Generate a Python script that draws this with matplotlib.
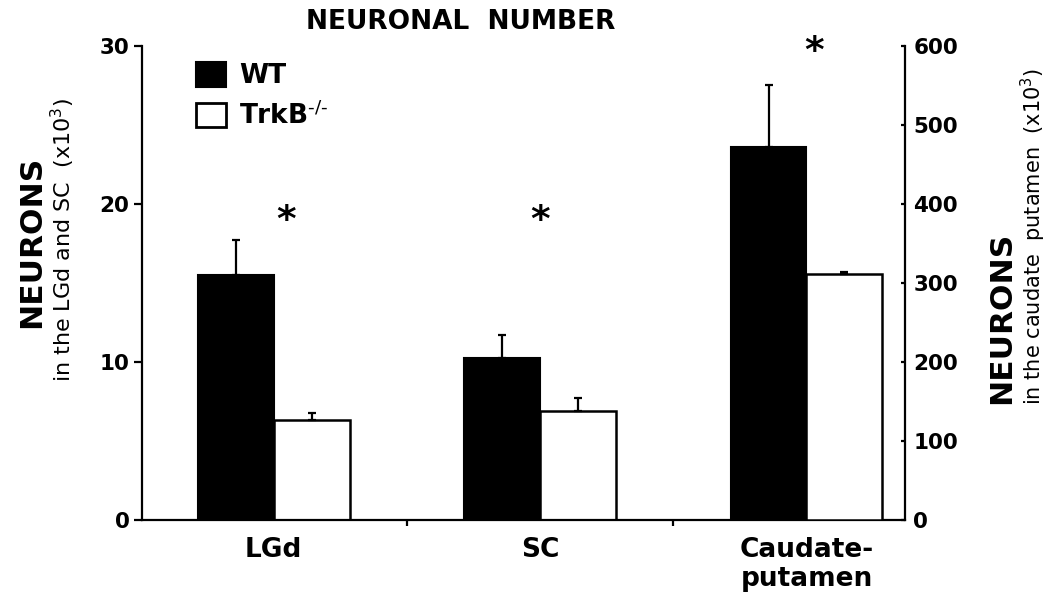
import numpy as np
import matplotlib
matplotlib.use("Agg")
import matplotlib.pyplot as plt
from matplotlib.patches import Patch

# данные (тыс. нейронов)
regions = ["LGd", "SC", "Caudate-\nputamen"]
wt_means = [15.5, 10.25, 472]      # последнее значение - по правой оси
wt_errs = [2.2, 1.45, 79]
ko_means = [6.3, 6.9, 312]
ko_errs = [0.45, 0.85, 2]
star_x = [0.045, 1.0, 2.03]
star_y = [18.9, 18.9, 29.65]       # по левой оси

plt.rcParams['font.family'] = ['DejaVu Sans']
plt.rcParams['mathtext.fontset'] = 'dejavusans'

fig = plt.figure(figsize=(10.5, 6.09), dpi=100)
ax = fig.add_axes([0.1352, 0.1461, 0.7267, 0.7783])
ax2 = ax.twinx()

x = np.arange(len(regions))
w = 0.285

# LGd и SC на левой оси
ax.bar(x[:2] - w / 2, wt_means[:2], w, color='black', edgecolor='black', linewidth=1.5, zorder=2)
ax.bar(x[:2] + w / 2, ko_means[:2], w, color='white', edgecolor='black', linewidth=1.8, zorder=2)
ax.errorbar(x[:2] - w / 2, wt_means[:2], yerr=[np.zeros(2), wt_errs[:2]], fmt='none',
            ecolor='black', elinewidth=1.6, capsize=2.6, capthick=1.6, zorder=3)
ax.errorbar(x[:2] + w / 2, ko_means[:2], yerr=[np.zeros(2), ko_errs[:2]], fmt='none',
            ecolor='black', elinewidth=1.6, capsize=2.6, capthick=1.6, zorder=3)

# Caudate-putamen на правой оси
ax2.bar(x[2] - w / 2, wt_means[2], w, color='black', edgecolor='black', linewidth=1.5, zorder=2)
ax2.bar(x[2] + w / 2, ko_means[2], w, color='white', edgecolor='black', linewidth=1.8, zorder=2)
ax2.errorbar([x[2] - w / 2], [wt_means[2]], yerr=[[0], [wt_errs[2]]], fmt='none',
             ecolor='black', elinewidth=1.6, capsize=2.6, capthick=1.6, zorder=3)
ax2.errorbar([x[2] + w / 2], [ko_means[2]], yerr=[[0], [ko_errs[2]]], fmt='none',
             ecolor='black', elinewidth=1.6, capsize=2.6, capthick=1.6, zorder=3)

ax.set_xlim(-0.495, 2.37)
ax.set_ylim(0, 30)
ax2.set_ylim(0, 600)

# оси
for a in (ax, ax2):
    a.spines['top'].set_visible(False)
    for s in a.spines.values():
        s.set_linewidth(1.6)
ax.spines['right'].set_visible(False)
ax2.spines['left'].set_visible(False)
ax2.spines['bottom'].set_visible(False)

ax.set_yticks([0, 10, 20, 30])
ax.tick_params(axis='y', direction='out', length=6, width=1.6, pad=3, labelsize=15.5)
ax2.set_yticks([0, 100, 200, 300, 400, 500, 600])
ax2.tick_params(axis='y', direction='in', length=3, width=1.6, pad=6, labelsize=15.5)
for lab in ax.get_yticklabels() + ax2.get_yticklabels():
    lab.set_fontweight('bold')

# разделители категорий и подписи
ax.set_xticks([0.5, 1.5])
ax.set_xticklabels([])
ax.tick_params(axis='x', which='major', direction='out', length=4, width=1.6)
ax.set_xticks(x, minor=True)
ax.set_xticklabels(regions, minor=True, fontsize=19, fontweight='bold', linespacing=1.15)
ax.tick_params(axis='x', which='minor', length=0, pad=12)

# звездочки
for sx, sy in zip(star_x, star_y):
    ax.text(sx, sy, "*", fontsize=27, fontweight='bold', ha='center', va='center', clip_on=False)

# легенда
handles = [Patch(facecolor='black', edgecolor='black', linewidth=1.5),
           Patch(facecolor='white', edgecolor='black', linewidth=2)]
leg = ax.legend(handles, ["WT", r"TrkB$^{\text{-/-}}$"], loc='upper left', bbox_to_anchor=(0.0708, 0.966),
                frameon=False, borderpad=0, borderaxespad=0, handlelength=1.14, handleheight=1.06,
                handletextpad=0.5, labelspacing=0.45, prop={'size': 19, 'weight': 'bold'})

# заголовок и подписи осей
fig.text(0.439, 0.964, "NEURONAL  NUMBER", fontsize=19, fontweight='bold', ha='center', va='center')
fig.text(32 / 1050, 1 - 242 / 609, "NEURONS", fontsize=22.5, fontweight='bold',
         rotation=90, ha='center', va='center')
fig.text(63 / 1050, 1 - 240 / 609, "in the LGd and SC  (x10$^{3}$)", fontsize=16,
         rotation=90, ha='center', va='center')
fig.text(1002 / 1050, 1 - 318 / 609, "NEURONS", fontsize=22.5, fontweight='bold',
         rotation=90, ha='center', va='center')
fig.text(1033 / 1050, 1 - 236 / 609, "in the caudate  putamen  (x10$^{3}$)", fontsize=15,
         rotation=90, ha='center', va='center')

fig.savefig("out.png", dpi=100)
